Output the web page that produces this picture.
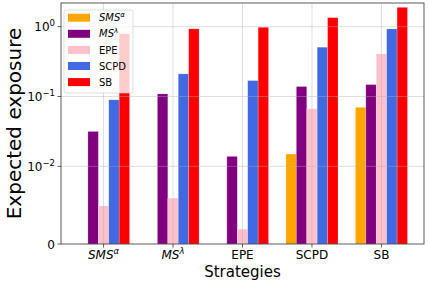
<!DOCTYPE html>
<html>
<head>
<meta charset="utf-8">
<script src="https://cdn.jsdelivr.net/npm/d3@7"></script>
<style>
  body { margin: 0; background: #fff; }
  text { font-family: 'DejaVu Sans', sans-serif; fill: #000; }
</style>
</head>
<body>
<div id="chart"></div>
<script>
// strategies on the x axis (name, superscript, italic)
const strategies = [
  { name: 'SMS', sup: 'α', italic: true },
  { name: 'MS', sup: 'λ', italic: true },
  { name: 'EPE', sup: '', italic: false },
  { name: 'SCPD', sup: '', italic: false },
  { name: 'SB', sup: '', italic: false }
]

// one series per legend entry, values per strategy group
const seriesNames = ['SMS', 'MS', 'EPE', 'SCPD', 'SB']
const seriesSup = ['α', 'λ', '', '', '']
const seriesColors = ['orange', 'purple', 'pink', 'royalblue', 'red']

const smsAlpha = [0, 0, 0, 0.015, 0.070]
const msLambda = [0.0316, 0.109, 0.0139, 0.139, 0.148]
const epe = [0.0049, 0.0059, 0.0019, 0.0667, 0.407]
const scpd = [0.0897, 0.211, 0.169, 0.508, 0.927]
const sb = [0.787, 0.93, 0.98, 1.345, 1.89]

const series = [smsAlpha, msLambda, epe, scpd, sb]

// y ticks
const yTicks = [0, 0.01, 0.1, 1]
const yTickExp = [null, '−2', '−1', '0']

const W = 429
const H = 284
const margin = { top: 3, right: 5, bottom: 40, left: 61 }

const svg = d3
  .select('#chart')
  .append('svg')
  .attr('width', W)
  .attr('height', H)

// matplotlib style symlog: linthresh 0.01, linscale 1
const linthresh = 0.01
const linscaleAdj = 1 / (1 - 1 / 10)
function symlog (v) {
  if (v <= linthresh) return (v / linthresh) * linscaleAdj
  return linscaleAdj + Math.log10(v / linthresh)
}

const y = d3
  .scaleLinear()
  .domain([0, symlog(2.18)])
  .range([H - margin.bottom, margin.top])

const groupIdx = d3.range(strategies.length)
const barW = 0.15
const x = d3
  .scaleLinear()
  .domain([-0.6125, 4.6125])
  .range([margin.left, W - margin.right])

const plot = svg.append('g')

// bars
series.forEach((vals, s) => {
  plot
    .selectAll('.bar-' + s)
    .data(vals)
    .enter()
    .append('rect')
    .attr('class', 'bar-' + s)
    .attr('x', (d, i) => x(i + (s - 2) * barW - barW / 2))
    .attr('width', x(barW) - x(0))
    .attr('y', d => y(symlog(d)))
    .attr('height', d => y(0) - y(symlog(d)))
    .attr('fill', seriesColors[s])
    .attr('stroke', d => d > 0 ? 'rgba(255,255,255,0.35)' : 'none')
    .attr('stroke-width', 0.6)
})

// grid on top
const grid = svg.append('g')
  .attr('stroke', '#b0b0b0')
  .attr('stroke-opacity', 0.5)
  .attr('stroke-width', 0.8)
grid.selectAll('.hg')
  .data(yTicks.slice(1))
  .enter()
  .append('line')
  .attr('x1', margin.left)
  .attr('x2', W - margin.right)
  .attr('y1', d => y(symlog(d)))
  .attr('y2', d => y(symlog(d)))
grid.selectAll('.vg')
  .data(groupIdx)
  .enter()
  .append('line')
  .attr('x1', d => x(d))
  .attr('x2', d => x(d))
  .attr('y1', margin.top)
  .attr('y2', H - margin.bottom)

// frame
svg.append('rect')
  .attr('x', margin.left)
  .attr('y', margin.top)
  .attr('width', W - margin.right - margin.left)
  .attr('height', H - margin.bottom - margin.top)
  .attr('fill', 'none')
  .attr('stroke', '#333')
  .attr('stroke-width', 0.8)

// y ticks
const yt = svg.append('g')
yTicks.forEach((t, i) => {
  const py = y(symlog(t))
  yt.append('line')
    .attr('x1', margin.left - 3.5)
    .attr('x2', margin.left)
    .attr('y1', py)
    .attr('y2', py)
    .attr('stroke', '#333')
    .attr('stroke-width', 0.8)
  const label = yt.append('text')
    .attr('x', margin.left - 6)
    .attr('y', py + 4.5)
    .attr('text-anchor', 'end')
    .style('font-size', '12px')
  if (yTickExp[i] === null) {
    label.text('0')
  } else {
    label.append('tspan').text('10')
    label.append('tspan')
      .attr('dy', -5)
      .style('font-size', '8.5px')
      .text(yTickExp[i])
  }
})

// x ticks
const xt = svg.append('g')
strategies.forEach((s, i) => {
  const px = x(i)
  xt.append('line')
    .attr('x1', px)
    .attr('x2', px)
    .attr('y1', H - margin.bottom)
    .attr('y2', H - margin.bottom + 3.5)
    .attr('stroke', '#333')
    .attr('stroke-width', 0.8)
  const label = xt.append('text')
    .attr('x', px)
    .attr('y', H - margin.bottom + 15)
    .attr('text-anchor', 'middle')
    .style('font-size', '12px')
    .style('font-style', s.italic ? 'italic' : 'normal')
  label.append('tspan').text(s.name)
  if (s.sup) {
    label.append('tspan')
      .attr('dy', -5)
      .style('font-size', '8.5px')
      .text(s.sup)
  }
})

// axis labels
svg.append('text')
  .attr('x', (margin.left + W - margin.right) / 2)
  .attr('y', 277)
  .attr('text-anchor', 'middle')
  .style('font-size', '15px')
  .text('Strategies')

svg.append('text')
  .attr('transform', `translate(21, ${(margin.top + H - margin.bottom) / 2}) rotate(-90)`)
  .attr('text-anchor', 'middle')
  .style('font-size', '20px')
  .text('Expected exposure')

// legend
const legend = svg.append('g').attr('transform', 'translate(64, 10)')
legend.append('rect')
  .attr('width', 69)
  .attr('height', 83)
  .attr('rx', 2)
  .attr('fill', 'rgba(255,255,255,0.8)')
  .attr('stroke', 'rgba(204,204,204,0.8)')
  .attr('stroke-width', 0.8)
seriesNames.forEach((n, i) => {
  const gy = 7.7 + i * 16.1
  legend.append('rect')
    .attr('x', 4)
    .attr('y', gy - 4)
    .attr('width', 22)
    .attr('height', 8)
    .attr('fill', seriesColors[i])
  const t = legend.append('text')
    .attr('x', 35)
    .attr('y', gy + 3.6)
    .style('font-size', '10px')
    .style('font-style', seriesSup[i] ? 'italic' : 'normal')
  t.append('tspan').text(n)
  if (seriesSup[i]) {
    t.append('tspan')
      .attr('dy', -4)
      .style('font-size', '7px')
      .text(seriesSup[i])
  }
})
</script>
</body>
</html>
